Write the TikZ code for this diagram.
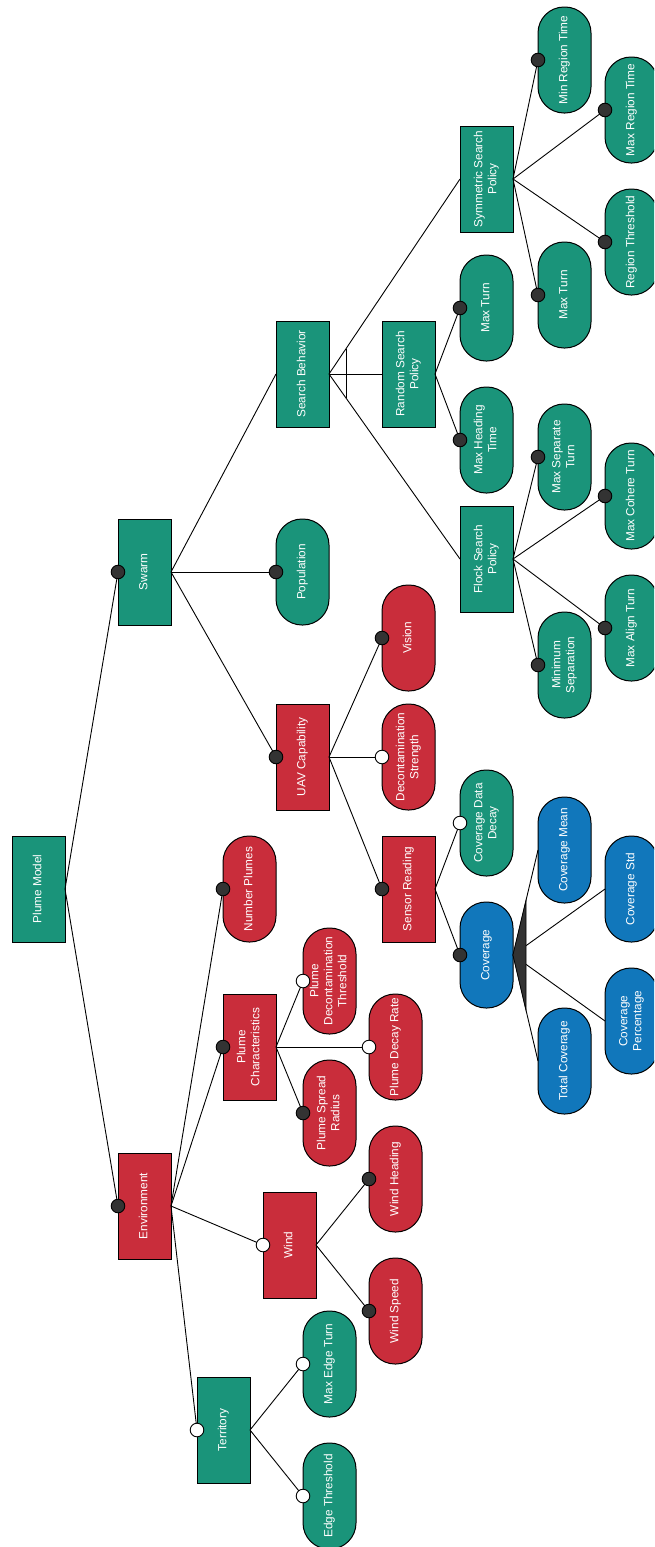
\documentclass[tikz,border=0pt]{standalone}
\usepackage{fontspec}
\setmainfont{Liberation Sans}
\usetikzlibrary{calc}
\definecolor{fgreen}{HTML}{1A947A}
\definecolor{fred}{HTML}{C92D3B}
\definecolor{fblue}{HTML}{1177BB}
\definecolor{fdark}{HTML}{333333}
\newcommand{\rt}[1]{\rotatebox{90}{\fontsize{11.8}{14}\selectfont\begin{tabular}{@{}c@{}}#1\end{tabular}}}
\tikzset{
  base/.style={draw=black, line width=1pt, text=white, minimum width=53pt, minimum height=106pt, inner sep=0pt, outer sep=0pt},
  feat/.style={base, rectangle},
  leaf/.style={base, rectangle, rounded corners=26pt},
  g/.style={fill=fgreen}, r/.style={fill=fred}, b/.style={fill=fblue},
  conn/.style={draw=black, line width=0.9pt},
  mand/.style={draw=black, line width=0.9pt, fill=fdark},
  opt/.style={draw=black, line width=0.9pt, fill=white},
}
\begin{document}
\begin{tikzpicture}[x=1pt,y=-1pt]
\useasboundingbox (0,0) rectangle (654,1547);
\clip (0,0) rectangle (654,1547);
% nodes
\node[feat,g] (pm) at (38.5,889) {\rt{Plume Model}};
\node[feat,g] (swarm) at (144.5,572) {\rt{Swarm}};
\node[feat,r] (env) at (144.5,1206) {\rt{Environment}};
\node[feat,g] (sb) at (302.5,374) {\rt{Search Behavior}};
\node[leaf,g] (pop) at (302.5,572) {\rt{Population}};
\node[feat,r] (uav) at (302.5,757) {\rt{UAV Capability}};
\node[feat,g] (rsp) at (408.5,374) {\rt{Random Search\\Policy}};
\node[feat,g] (ssp) at (486.5,179) {\rt{Symmetric Search\\Policy}};
\node[feat,g] (fsp) at (486.5,559) {\rt{Flock Search\\Policy}};
\node[leaf,g] (mt1) at (486.5,308) {\rt{Max Turn}};
\node[leaf,g] (mht) at (486.5,440) {\rt{Max Heading\\Time}};
\node[leaf,g] (minrt) at (564.5,60) {\rt{Min Region Time}};
\node[leaf,g] (maxrt) at (631.5,110) {\rt{Max Region Time}};
\node[leaf,g] (rth) at (631.5,242) {\rt{Region Threshold}};
\node[leaf,g] (mt2) at (564.5,295) {\rt{Max Turn}};
\node[leaf,g] (mst) at (564.5,457) {\rt{Max Separate\\Turn}};
\node[leaf,g] (mct) at (631.5,496) {\rt{Max Cohere Turn}};
\node[leaf,g] (mat) at (631.5,628) {\rt{Max Align Turn}};
\node[leaf,g] (ms) at (564.5,665) {\rt{Minimum\\Separation}};
\node[leaf,r] (vis) at (408.5,638) {\rt{Vision}};
\node[leaf,r] (ds) at (408.5,757) {\rt{Decontamination\\Strength}};
\node[feat,r] (sr) at (408.5,889) {\rt{Sensor Reading}};
\node[leaf,g] (cdd) at (486.5,823) {\rt{Coverage Data\\Decay}};
\node[leaf,b] (cov) at (486.5,955) {\rt{Coverage}};
\node[leaf,b] (cm) at (564.5,850) {\rt{Coverage Mean}};
\node[leaf,b] (cs) at (631.5,889) {\rt{Coverage Std}};
\node[leaf,b] (cp) at (631.5,1021) {\rt{Coverage\\Percentage}};
\node[leaf,b] (tc) at (564.5,1061) {\rt{Total Coverage}};
\node[leaf,r] (np) at (249.5,889) {\rt{Number Plumes}};
\node[feat,r] (pc) at (249.5,1047) {\rt{Plume\\Characteristics}};
\node[leaf,r] (pdt) at (329.5,981) {\rt{Plume\\Decontamination\\Threshold}};
\node[leaf,r] (pdr) at (395.5,1047) {\rt{Plume Decay Rate}};
\node[leaf,r] (psr) at (329.5,1113) {\rt{Plume Spread\\Radius}};
\node[feat,r] (wind) at (289.5,1245) {\rt{Wind}};
\node[leaf,r] (wh) at (395.5,1179) {\rt{Wind Heading}};
\node[leaf,r] (ws) at (395.5,1311) {\rt{Wind Speed}};
\node[feat,g] (ter) at (223.5,1430) {\rt{Territory}};
\node[leaf,g] (met) at (329.5,1364) {\rt{Max Edge Turn}};
\node[leaf,g] (et) at (329.5,1496) {\rt{Edge Threshold}};
% connectors
\foreach \p/\c in {pm/swarm, pm/env, swarm/sb, swarm/pop, swarm/uav,
  env/np, env/pc, env/wind, env/ter,
  uav/vis, uav/ds, uav/sr, sr/cdd, sr/cov,
  cov/cm, cov/cs, cov/cp, cov/tc,
  pc/pdt, pc/pdr, pc/psr, wind/wh, wind/ws, ter/met, ter/et,
  sb/ssp, sb/rsp, sb/fsp, rsp/mt1, rsp/mht,
  ssp/minrt, ssp/maxrt, ssp/rth, ssp/mt2,
  fsp/mst, fsp/mct, fsp/mat, fsp/ms}
  \draw[conn] (\p.east) -- (\c.west);
% alternative group
\draw[conn] ($(sb.east)!0.13!(ssp.west)$) -- ($(sb.east)!0.13!(fsp.west)$);
% or group
\fill[fdark, draw=black, line width=0.6pt] (cov.east) -- ($(cov.east)!0.52!(cm.west)$) -- ($(cov.east)!0.52!(tc.west)$) -- cycle;
% mandatory / optional markers
\foreach \c in {swarm, env, np, pc, psr, wh, ws, pop, uav, vis, sr, cov,
  mt1, mht, minrt, maxrt, rth, mt2, mst, mct, mat, ms}
  \draw[mand] (\c.west) circle (6.8pt);
\foreach \c in {pdt, pdr, wind, ter, met, et, ds, cdd}
  \draw[opt] (\c.west) circle (6.8pt);
\end{tikzpicture}
\end{document}
